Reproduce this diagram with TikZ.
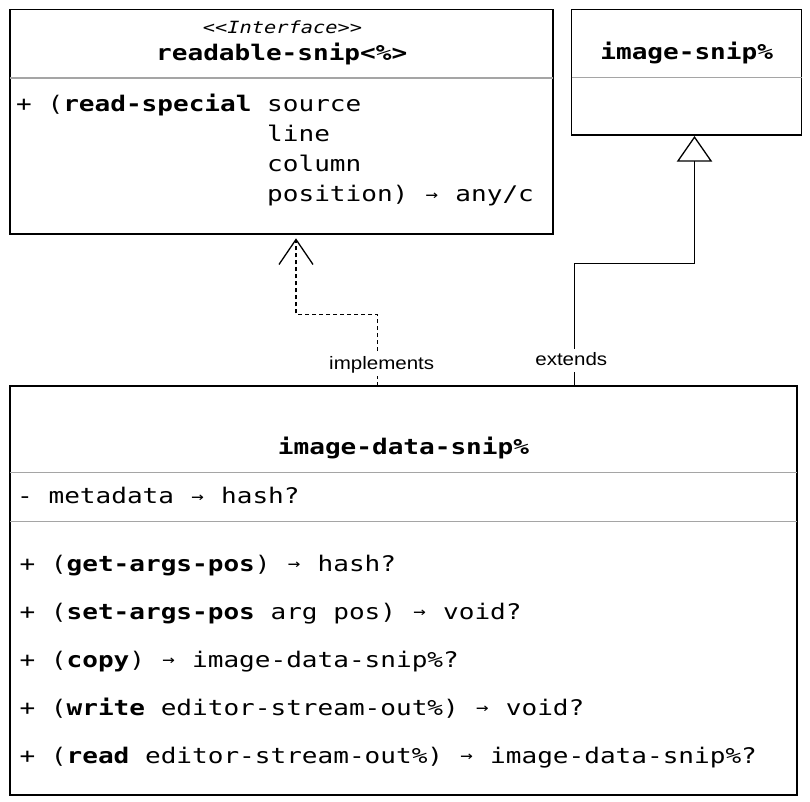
\documentclass[tikz,border=0pt]{standalone}
\usepackage{fontspec}
\usepackage{graphicx}
\usetikzlibrary{arrows.meta}
\setmonofont[FakeStretch=1.212,BoldFont={DejaVu Sans Mono Bold},ItalicFont={DejaVu Sans Mono Oblique}]{DejaVu Sans Mono}
\setsansfont[FakeStretch=1.14]{Liberation Sans}
\newcommand\monosz{\fontsize{21.5}{24}\selectfont}
\newcommand\arr{\hbox to \fontcharwd\font`x{\hss\raisebox{1.2pt}{\scalebox{0.8}{→}}\hss}}
\definecolor{sepgray}{RGB}{165,165,165}
\tikzset{
  classbox/.style={draw=black, line width=1.3pt, fill=white, rectangle, anchor=north west, inner sep=0pt, outer sep=0pt},
  sepline/.style={draw=sepgray, line width=1.5pt},
  mtxt/.style={anchor=base west, inner sep=0pt, font=\ttfamily\monosz},
  ttl/.style={anchor=base, inner sep=0pt, font=\ttfamily\bfseries\monosz},
  stereo/.style={anchor=base, inner sep=0pt, font=\ttfamily\itshape\fontsize{16.8}{18}\selectfont},
  lbl/.style={anchor=base, font=\sffamily\fontsize{18}{20}\selectfont, fill=white, inner xsep=1pt, inner ysep=3pt, text height=13pt, text depth=4pt},
  conn/.style={draw=black, line width=1.3pt},
}
\begin{document}
\begin{tikzpicture}[x=1pt,y=-1pt]
\useasboundingbox (0,0) rectangle (810,801);
% class boxes
\node[classbox, minimum width=543pt, minimum height=224.5pt] (iface) at (10,9.5) {};
\node[classbox, minimum width=230pt, minimum height=125.5pt] (isnip) at (571.7,9.5) {};
\node[classbox, minimum width=787pt, minimum height=409pt] (data) at (10,386) {};
% separators
\path (iface.north west) ++(0,68.5) coordinate (s1);
\draw[sepline] (s1) -- (s1 -| iface.east);
\path (isnip.north west) ++(0,67.8) coordinate (s2);
\draw[sepline] (s2) -- (s2 -| isnip.east);
\path (data.north west) ++(0,86.3) coordinate (s3);
\draw[sepline] (s3) -- (s3 -| data.east);
\path (data.north west) ++(0,135.7) coordinate (s4);
\draw[sepline] (s4) -- (s4 -| data.east);
% interface texts
\node[stereo] (st) at (282.5,33) {<<Interface>>};
\node[ttl] (t1) at (281.7,60) {readable-snip<\%>};
\node[mtxt] (r1) at (16,111.5) {+ (\textbf{read-special} source};
\node[mtxt] (r2) at (16,141.5) {\hphantom{+ (read-special }line};
\node[mtxt] (r3) at (16,171.5) {\hphantom{+ (read-special }column};
\node[mtxt] (r4) at (16,201.5) {\hphantom{+ (read-special }position) \arr{} any/c};
% image-snip
\node[ttl] (t2) at (686.7,59.5) {image-snip\%};
% image-data-snip
\node[ttl] (t3) at (403.5,454.5) {image-data-snip\%};
\node[mtxt] (a1) at (17,503.5) {- metadata \arr{} hash?};
\node[mtxt] (m1) at (19.4,571) {+ (\textbf{get-args-pos}) \arr{} hash?};
\node[mtxt] (m2) at (19.4,619) {+ (\textbf{set-args-pos} arg pos) \arr{} void?};
\node[mtxt] (m3) at (19.4,667) {+ (\textbf{copy}) \arr{} image-data-snip\%?};
\node[mtxt] (m4) at (19.4,715) {+ (\textbf{write} editor-stream-out\%) \arr{} void?};
\node[mtxt] (m5) at (19.4,763) {+ (\textbf{read} editor-stream-out\%) \arr{} image-data-snip\%?};
% connectors
\coordinate (ijog) at (377.3,314.3);
\coordinate (itip) at (296,0);
\draw[conn, dash pattern=on 4pt off 3pt, shorten >=4.3pt, -{Straight Barb[length=25pt, width=34pt]}]
  (data.north -| ijog) -- (ijog) -| (iface.south -| itip);
\coordinate (ejog) at (574.3,263.3);
\coordinate (etip) at (694.5,0);
\draw[conn, shorten >=1pt, -{Triangle[open, length=25.7pt, width=35.4pt]}]
  (data.north -| ejog) -- (ejog) -| (isnip.south -| etip);
% labels
\node[lbl] (limpl) at (381.7,369.3) {implements};
\node[lbl] (lext) at (571.3,365) {extends};
\end{tikzpicture}
\end{document}
